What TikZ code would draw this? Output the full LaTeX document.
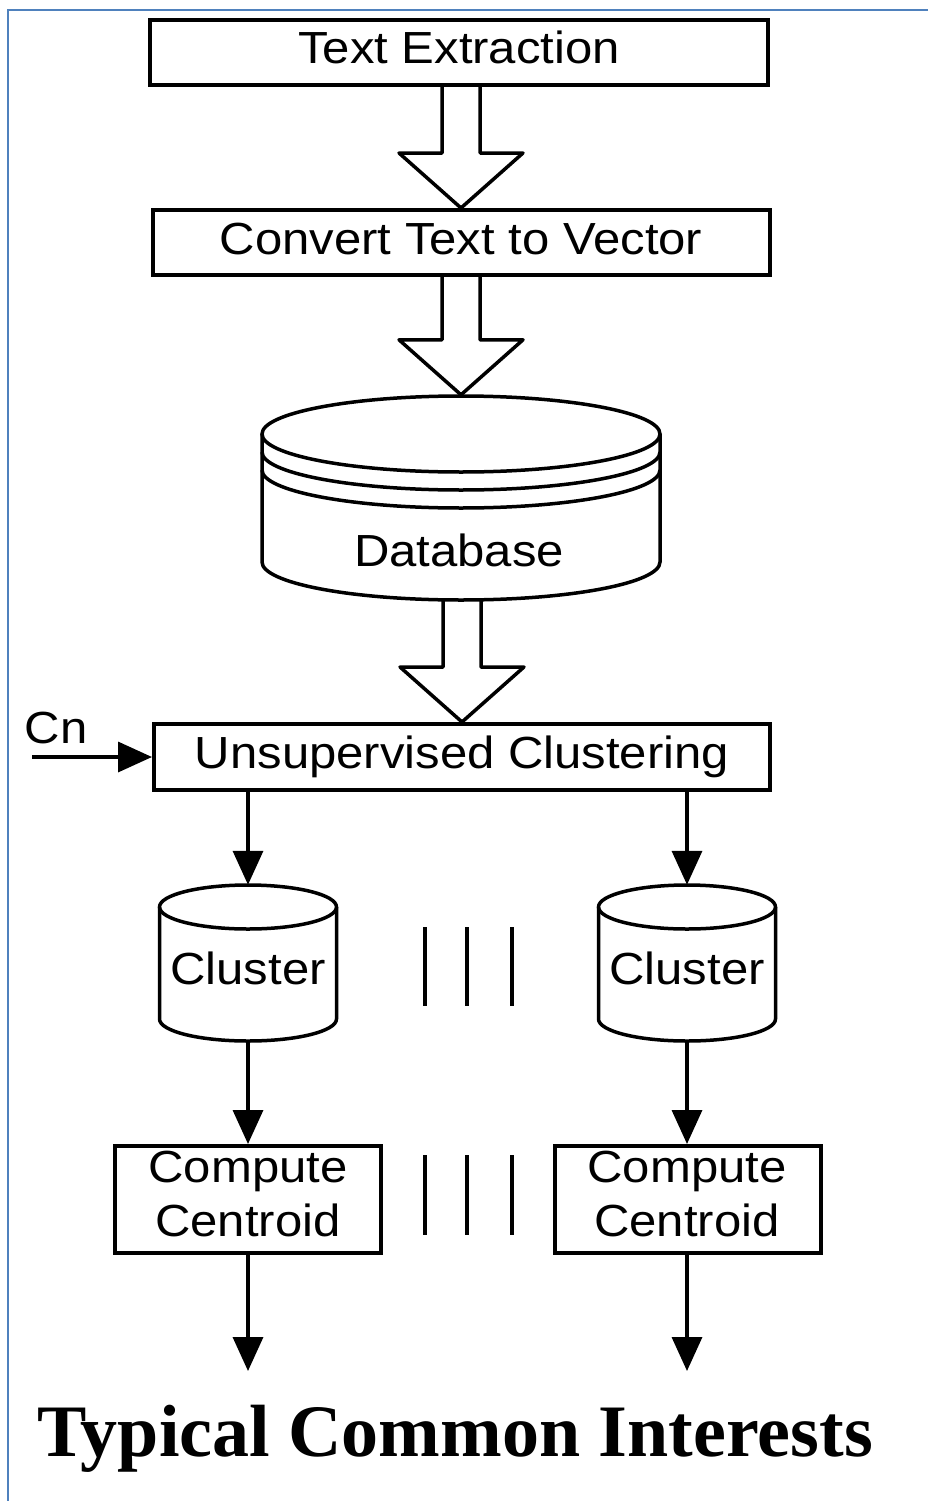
\documentclass[tikz,border=0pt]{standalone}
\usepackage{fontspec}
\setmainfont{Liberation Sans}[FakeStretch=1.09]
\newfontfamily\titlefont{Liberation Serif}
\usetikzlibrary{arrows.meta,calc}
\definecolor{frameblue}{RGB}{79,129,189}

% wide hollow block arrow from the bottom of #1 to the tip point #2
\newcommand\hollowarrow[2]{%
  \draw[hollow] ($(#2 |- #1)+(-19,0)$) -- ($(#2)+(-19,-55)$) -- ($(#2)+(-62,-55)$)
    -- (#2) -- ($(#2)+(62,-55)$) -- ($(#2)+(19,-55)$) -- ($(#2 |- #1)+(19,0)$);}

% drum: centre x, top ellipse y, bottom ellipse y, x radius, y radius
\newcommand\drumshape[5]{%
  \draw[drum] (#1,#2) ellipse [x radius=#4pt, y radius=#5pt];
  \draw[drum] ($(#1,#2)+(-#4,0)$) -- ($(#1,#3)+(-#4,0)$)
    arc[start angle=180, end angle=360, x radius=#4pt, y radius=#5pt]
    -- ($(#1,#2)+(#4,0)$);}

\begin{document}
\begin{tikzpicture}[x=1pt, y=-1pt,
  frame/.style={draw=frameblue, line width=2pt},
  stepbox/.style={draw, line width=4pt, inner sep=0pt,
    font=\fontsize{45}{54}\selectfont, text height=32pt, text depth=9pt},
  plainbox/.style={draw, line width=4pt, inner sep=0pt},
  lbl/.style={inner sep=0pt, font=\fontsize{45}{54}\selectfont, align=center},
  hollow/.style={draw, line width=3.5pt, line join=round},
  flow/.style={line width=3.5pt, -{Triangle[width=30pt, length=34pt]}},
  drum/.style={line width=3.5pt},
  sepbar/.style={line width=4pt},
  heading/.style={inner sep=0pt, font=\titlefont\bfseries\fontsize{74}{80}\selectfont}]

\useasboundingbox (0,0) rectangle (928,1501);

% page frame
\draw[frame] (8,1501) -- (8,10) -- (928,10);

% processing steps
\node[stepbox, minimum width=618pt, minimum height=65pt] (te) at (459,52.5) {Text Extraction};
\node[stepbox, minimum width=617pt, minimum height=65pt] (ctv) at (461,242.5) {Convert Text to Vector};
\node[stepbox, minimum width=616pt, minimum height=66pt] (uc) at (462,757) {Unsupervised Clustering};

% database store
\drumshape{461}{434}{562}{199}{38}
\draw[drum] (262,452) arc[start angle=180, end angle=360, x radius=199pt, y radius=38pt];
\draw[drum] (262,470) arc[start angle=180, end angle=360, x radius=199pt, y radius=38pt];
\node[inner sep=0pt, minimum width=398pt, minimum height=205pt] (db) at (461,497.5) {};
\node[lbl] (dbname) at (459,550) {Database};

% block arrows between the main steps
\hollowarrow{te.south}{ctv.north}
\hollowarrow{ctv.south}{db.north}
\hollowarrow{db.south}{uc.north}

% cluster count input
\node[lbl] (cn) at (56,728) {Cn};
\coordinate (cnin) at (32,757);
\draw[flow] (cnin) -- (uc.west);

% clusters
\drumshape{248}{907}{1019}{88.5}{22}
\drumshape{687}{907}{1019}{88.5}{22}
\node[inner sep=0pt, minimum width=177pt, minimum height=156pt] (cl1) at (248,963) {};
\node[inner sep=0pt, minimum width=177pt, minimum height=156pt] (cl2) at (687,963) {};
\node[lbl] (cl1name) at (248,968) {Cluster};
\node[lbl] (cl2name) at (687,968) {Cluster};

% centroid steps
\node[plainbox, minimum width=266pt, minimum height=107pt] (cc1) at (248,1199.5) {};
\node[plainbox, minimum width=266pt, minimum height=107pt] (cc2) at (688,1199.5) {};
\node[lbl, anchor=base] (cc1name) at (248,1236) {Compute\\Centroid};
\node[lbl, anchor=base] (cc2name) at (687,1236) {Compute\\Centroid};

% ellipsis bars between the parallel branches
\foreach \bx in {425,467,512} {
  \draw[sepbar] (\bx,927) -- (\bx,1006);
  \draw[sepbar] (\bx,1155) -- (\bx,1235);
}

% branch connectors
\draw[flow] (uc.south -| cl1.north) -- (cl1.north);
\draw[flow] (uc.south -| cl2.north) -- (cl2.north);
\draw[flow] (cl1.south) -- (cl1.south |- cc1.north);
\draw[flow] (cl2.south) -- (cl2.south |- cc2.north);
\coordinate (out1) at (248,1371);
\coordinate (out2) at (687,1371);
\draw[flow] (cc1.south -| out1) -- (out1);
\draw[flow] (cc2.south -| out2) -- (out2);

% result caption
\node[heading, anchor=base] (result) at (455,1456) {Typical Common Interests};
\end{tikzpicture}
\end{document}
